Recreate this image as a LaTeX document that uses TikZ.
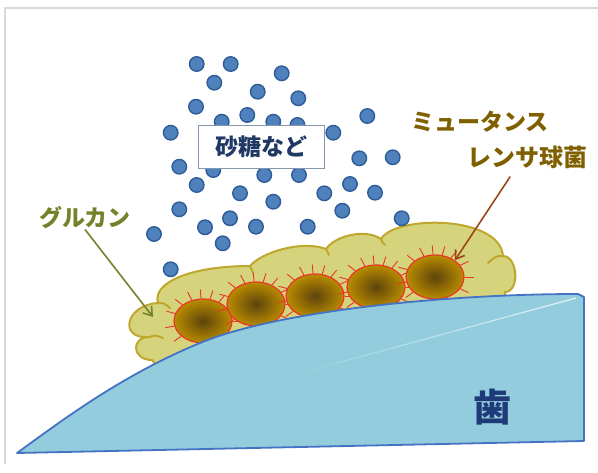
\documentclass[tikz,border=0pt]{standalone}
\usepackage{fontspec}
\newfontfamily\jpfont{Noto Sans CJK JP}
\usetikzlibrary{arrows.meta,shapes.geometric,calc}
\definecolor{Frame}{HTML}{D9D9D9}
\definecolor{ToothFill}{HTML}{93CDDD}
\definecolor{ToothLine}{HTML}{4472C4}
\definecolor{ToothText}{HTML}{1F3A78}
\definecolor{GlucanFill}{HTML}{D5D47C}
\definecolor{GlucanLine}{HTML}{BFA62C}
\definecolor{GlucanText}{HTML}{76822A}
\definecolor{GermRed}{HTML}{E8352A}
\definecolor{GermCore}{HTML}{5E440C}
\definecolor{GermRim}{HTML}{B98C00}
\definecolor{SugarFill}{HTML}{4F81BD}
\definecolor{SugarLine}{HTML}{2E5C99}
\definecolor{SugarText}{HTML}{1F3864}
\definecolor{BoxLine}{HTML}{8497B0}
\definecolor{MutansText}{HTML}{7F6000}
\definecolor{MutansArrow}{HTML}{9B4619}

\tikzset{
  sugar/.style={circle,minimum size=14.5pt,inner sep=0pt,fill=SugarFill,draw=SugarLine,line width=1.4pt},
  germ/.style={ellipse,minimum width=58pt,minimum height=44pt,inner sep=0pt,
    draw=GermRed,line width=1.2pt,inner color=GermCore,outer color=GermRim},
  spike/.style={GermRed,line width=0.9pt},
  tag/.style={font=\jpfont\bfseries\fontsize{23}{23}\selectfont,inner sep=0pt},
  pointer/.style={line width=1.6pt,-{Straight Barb[length=8pt,width=11pt]}},
}

\begin{document}
\begin{tikzpicture}[x=1pt,y=-1pt]
  \useasboundingbox (0,0) rectangle (598,472);
  \draw[Frame,line width=2pt] (5,464) -- (5,8) -- (598,8);

  % glucan layer
  \filldraw[fill=GlucanFill,draw=GlucanLine,line width=2pt]
    (152,360) .. controls (132,360) and (130,337) .. (150,337)
    .. controls (118,340) and (125,305) .. (158,303)
    .. controls (152,282) and (192,266) .. (250,266)
    .. controls (262,252) and (302,240) .. (326,249)
    .. controls (335,236) and (365,228) .. (381,239)
    .. controls (395,215) and (500,215) .. (503,256)
    .. controls (518,256) and (520,292) .. (505,292)
    -- (505,315) -- (175,374) .. controls (160,370) .. cycle;
  \draw[GlucanLine,line width=2pt,line cap=round]
    (150,337) .. controls (155,335) .. (163,338)
    (158,303) .. controls (164,303) .. (170,308)
    (250,266) .. controls (251,269) .. (253,273)
    (326,249) .. controls (327,251) .. (329,255)
    (381,239) .. controls (382,242) .. (385,245)
    (503,256) .. controls (496,256) .. (488,263);

  % mutans cells
  \foreach \i/\cx/\cy in {1/203/321,2/256/304,3/315/296,4/376/287,5/435/277} {
    \node[germ] (germ\i) at (\cx,\cy) {};
    \foreach \a in {-25,0,25,50,72,95,118,142,165,190,215}
      \draw[spike] (germ\i.\a) -- ($(germ\i.\a)!-9pt!(germ\i.center)$);
  }

  % tooth
  \filldraw[fill=ToothFill,draw=ToothLine,line width=1.8pt,line join=round]
    (17,453) .. controls (60,422) and (120,376) .. (200,343)
    .. controls (280,310) and (450,294) .. (578,294)
    -- (584,297) -- (584,441) -- cycle;
  \coordinate (hlA) at (275,380);
  \coordinate (hlB) at (576,298);
  \foreach \k in {0,...,9}
    \draw[white,line width=1.2pt,opacity=0.08*\k]
      ($(hlA)!\k/10!(hlB)$) -- ($(hlA)!\k/10+0.1!(hlB)$);
  \node[font=\jpfont\bfseries\fontsize{38}{38}\selectfont,text=ToothText] (tooth) at (492,407) {歯};

  % sugar particles
  \foreach \x/\y [count=\n] in {
    196.7/64, 230.7/64, 281.7/73.3, 214.3/82.7, 257.7/91.7, 298.3/98.3,
    196/106.7, 247.3/115, 221.7/121.7, 273.3/121.7, 297.5/125, 367.3/116,
    170.7/132.7, 333.3/132.7, 179.3/166.7, 213.3/170, 264.3/175, 299/175,
    359.3/158.3, 392.7/157.3, 196.7/185, 240/193.3, 273.3/201.7, 324.3/193.3,
    350/184, 375/192.7, 179.3/209.3, 230/218.3, 205/227.3, 256/226.7,
    307.7/226.7, 342.3/210.7, 401.7/218.3, 154/234, 222.7/243.3, 170.7/269.3}
    \node[sugar] (dot\n) at (\x,\y) {};

  \node[draw=BoxLine,fill=white,line width=1pt,minimum width=126pt,minimum height=43pt,
    font=\jpfont\bfseries\fontsize{23}{23}\selectfont,text=SugarText] (sugar) at (261,146.7) {砂糖など};

  % labels
  \node[tag,text=GlucanText] (glucan) at (85,218) {グルカン};
  \node[tag,text=MutansText] (mutans1) at (480,122) {ミュータンス};
  \node[tag,text=MutansText,anchor=west,font=\jpfont\bfseries\fontsize{24}{24}\selectfont] (mutans2) at (467,157) {レンサ球菌};
  \coordinate (glucanTip) at (153,317);

  \draw[pointer,GlucanText] (glucan.south) -- (glucanTip);
  \draw[pointer,MutansArrow] ([xshift=-17pt,yshift=-8pt]mutans2.south) -- (germ5.40);
\end{tikzpicture}
\end{document}
